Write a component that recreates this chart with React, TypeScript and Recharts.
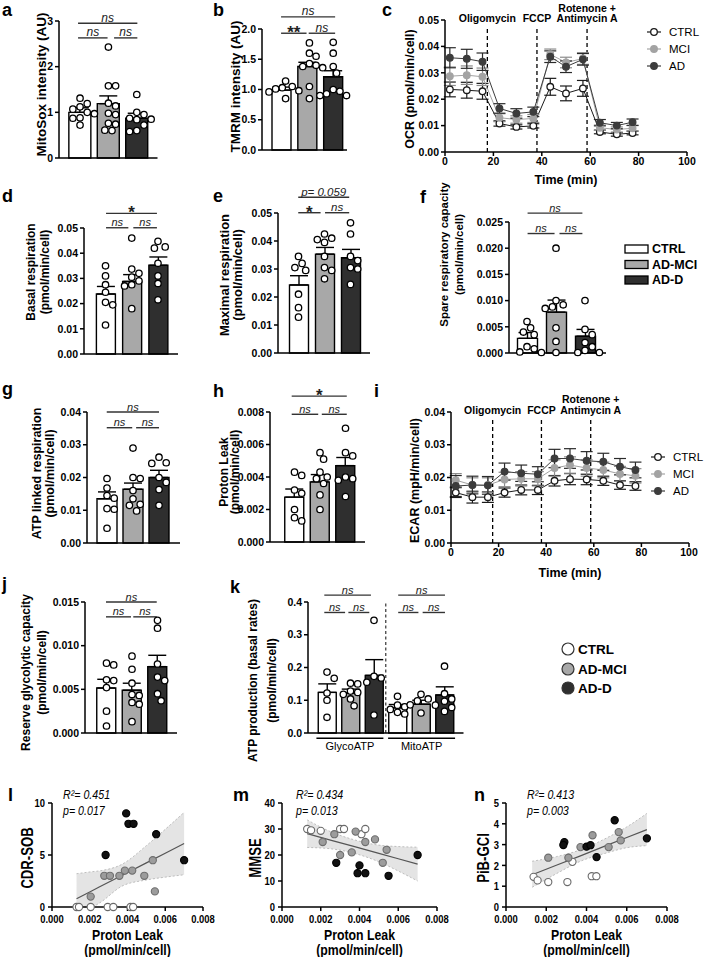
import React from 'react';
import {
  ComposedChart, LineChart, Line, Bar, Cell, Scatter, Area, XAxis, YAxis,
  ErrorBar, ReferenceLine, Label, Legend,
} from 'recharts';

const FONT = '"Liberation Sans", Arial, Helvetica, sans-serif';
const NARROW_SCALE = 0.82;

// ---------- shared categories ----------
const GROUPS = ['CTRL', 'AD-MCI', 'AD-D'];
const BAR_FILLS = ['#ffffff', '#a8a8a8', '#2f2f2f'];

// ---------- a: MitoSox ----------
const mitoSoxMean = [1.0, 1.19, 0.87];
const mitoSoxSem = [0.1, 0.17, 0.11];
const mitoSoxCtrl = [1.31, 1.19, 1.12, 1.07, 1.0, 0.97, 0.88, 0.87, 0.72];
const mitoSoxMci = [2.43, 1.58, 1.58, 1.2, 1.14, 0.98, 0.95, 0.76, 0.74, 0.61, 0.6];
const mitoSoxAd = [1.39, 1.0, 0.95, 0.87, 0.85, 0.84, 0.72, 0.6, 0.58];

// ---------- b: TMRM ----------
const tmrmMean = [0.99, 1.38, 1.21];
const tmrmSem = [0.05, 0.07, 0.1];
const tmrmCtrl = [1.14, 1.05, 1.03, 1.01, 0.98, 0.96, 0.85];
const tmrmMci = [1.77, 1.6, 1.55, 1.43, 1.4, 1.38, 1.36, 1.05, 0.85];
const tmrmAd = [1.78, 1.6, 1.38, 1.27, 1.0, 0.97, 0.93, 0.9, 0.9];

// ---------- c / i: time courses ----------
const TIMES = [2, 9, 15.5, 22.5, 29.5, 36.5, 43.5, 50, 57, 64, 71, 77.5];
const DRUG_TIMES = [17.5, 38, 58.7];
const ocrCtrl = [0.0237, 0.0234, 0.023, 0.0108, 0.0095, 0.0099, 0.0247, 0.0222, 0.0241, 0.0076, 0.0067, 0.0072];
const ocrCtrlErr = [0.0028, 0.003, 0.003, 0.001, 0.0008, 0.0008, 0.0032, 0.0028, 0.003, 0.0007, 0.0007, 0.0007];
const ocrMci = [0.0287, 0.0291, 0.0285, 0.013, 0.0123, 0.0127, 0.037, 0.0339, 0.0354, 0.0092, 0.0085, 0.009];
const ocrMciErr = [0.0035, 0.0035, 0.0033, 0.0015, 0.0014, 0.0015, 0.002, 0.002, 0.0022, 0.001, 0.001, 0.001];
const ocrAd = [0.0357, 0.0353, 0.0342, 0.0165, 0.0146, 0.0152, 0.0361, 0.0323, 0.0351, 0.0111, 0.01, 0.0113];
const ocrAdErr = [0.0038, 0.0036, 0.0033, 0.0018, 0.0018, 0.0018, 0.0022, 0.0022, 0.0022, 0.0012, 0.0012, 0.0012];

const ecarCtrl = [0.0154, 0.014, 0.014, 0.0154, 0.0162, 0.0162, 0.019, 0.0195, 0.0194, 0.019, 0.0177, 0.0174];
const ecarCtrlErr = [0.0015, 0.0018, 0.0016, 0.0014, 0.0015, 0.0014, 0.0016, 0.0017, 0.0016, 0.0014, 0.0013, 0.0013];
const ecarMci = [0.0192, 0.0177, 0.0177, 0.0194, 0.0196, 0.0196, 0.0229, 0.0238, 0.0229, 0.0223, 0.0211, 0.0205];
const ecarMciErr = [0.002, 0.0022, 0.0022, 0.0022, 0.0022, 0.0022, 0.0025, 0.0025, 0.0025, 0.0024, 0.0023, 0.0022];
const ecarAd = [0.0174, 0.0177, 0.0176, 0.0218, 0.0213, 0.021, 0.0258, 0.0258, 0.0251, 0.0248, 0.0233, 0.0223];
const ecarAdErr = [0.0032, 0.0027, 0.0027, 0.0026, 0.0025, 0.0023, 0.0028, 0.003, 0.0028, 0.0026, 0.0025, 0.0024];

// ---------- d: basal ----------
const basalMean = [0.0238, 0.0288, 0.0352];
const basalSem = [0.003, 0.0027, 0.0033];
const basalCtrl = [0.035, 0.031, 0.0275, 0.0245, 0.0205, 0.0195, 0.0115];
const basalMci = [0.046, 0.0337, 0.032, 0.0305, 0.029, 0.0275, 0.027, 0.018];
const basalAd = [0.0447, 0.0425, 0.042, 0.036, 0.031, 0.028, 0.0215];

// ---------- e: maximal ----------
const maxMean = [0.0243, 0.0353, 0.034];
const maxSem = [0.0033, 0.0024, 0.003];
const maxCtrl = [0.0345, 0.032, 0.0305, 0.0295, 0.021, 0.0162, 0.0128];
const maxMci = [0.0425, 0.041, 0.0405, 0.0395, 0.0345, 0.0305, 0.0295, 0.0265];
const maxAd = [0.0465, 0.0425, 0.0345, 0.033, 0.0305, 0.03, 0.0245];

// ---------- f: spare ----------
const spareMean = [0.0028, 0.0078, 0.0032];
const spareSem = [0.0011, 0.0023, 0.0013];
const spareCtrl = [0.006, 0.0048, 0.004, 0.0035, 0.0012, 0.0008, 0.0002, 0.0001];
const spareMci = [0.02, 0.01, 0.0092, 0.0088, 0.0085, 0.0048, 0.0022, 0.0001];
const spareAd = [0.01, 0.0045, 0.0035, 0.002, 0.0012, 0.0005, 0.0001, 0.0001];

// ---------- g: ATP linked ----------
const atpMean = [0.0135, 0.0164, 0.02];
const atpSem = [0.0021, 0.0019, 0.0022];
const atpCtrl = [0.0197, 0.0168, 0.0145, 0.0137, 0.0105, 0.0103, 0.0045];
const atpMci = [0.029, 0.02, 0.0197, 0.016, 0.0135, 0.0118, 0.0115, 0.0098];
const atpAd = [0.0262, 0.0245, 0.0243, 0.02, 0.0185, 0.0163, 0.0115];

// ---------- h: proton leak ----------
const leakMean = [0.00276, 0.0037, 0.0047];
const leakSem = [0.0005, 0.00045, 0.0005];
const leakCtrl = [0.0043, 0.0041, 0.0032, 0.003, 0.002, 0.0015, 0.0013];
const leakMci = [0.0055, 0.0051, 0.0043, 0.004, 0.0039, 0.0036, 0.0029, 0.002];
const leakAd = [0.007, 0.0055, 0.0053, 0.004, 0.0039, 0.0038, 0.0028];

// ---------- j: reserve glycolytic ----------
const glyMean = [0.00515, 0.0049, 0.0076];
const glySem = [0.001, 0.0008, 0.0013];
const glyCtrl = [0.008, 0.0078, 0.0061, 0.006, 0.0052, 0.0025, 0.0008];
const glyMci = [0.0088, 0.0073, 0.0057, 0.0044, 0.0043, 0.0035, 0.0033, 0.0013];
const glyAd = [0.0129, 0.012, 0.0079, 0.0064, 0.006, 0.0045, 0.0037];

// ---------- k: ATP production ----------
const prodCats = ['GlycoATP CTRL', 'GlycoATP AD-MCI', 'GlycoATP AD-D', 'MitoATP CTRL', 'MitoATP AD-MCI', 'MitoATP AD-D'];
const prodGroups = ['GlycoATP', 'MitoATP'];
const prodMean = [0.124, 0.122, 0.176, 0.077, 0.088, 0.116];
const prodSem = [0.026, 0.012, 0.048, 0.01, 0.012, 0.025];
const prodDots = [
  [0.186, 0.167, 0.122, 0.1, 0.048],
  [0.152, 0.15, 0.128, 0.124, 0.118, 0.104, 0.083],
  [0.344, 0.173, 0.168, 0.155, 0.055],
  [0.112, 0.085, 0.08, 0.072, 0.063, 0.058],
  [0.118, 0.104, 0.098, 0.086, 0.085, 0.061],
  [0.204, 0.12, 0.104, 0.097, 0.078, 0.066],
];

// ---------- l/m/n: correlations ----------
const LEAK_TICKS = [0, 0.002, 0.004, 0.006, 0.008];
const cdrCtrl = [[0.0013, 0], [0.00143, 0], [0.00205, 0], [0.00295, 0], [0.00325, 0], [0.00416, 0], [0.0043, 0]];
const cdrMci = [[0.00205, 1.0], [0.00277, 3.0], [0.00307, 3.0], [0.00357, 3.0], [0.00386, 3.5], [0.00425, 3.5], [0.00489, 3.0], [0.00534, 4.5], [0.00545, 1.5]];
const cdrAd = [[0.00393, 9.0], [0.00405, 8.0], [0.00432, 8.0], [0.00552, 7.0], [0.00284, 5.0], [0.007, 4.5]];
const cdrFitX = [0.0013, 0.0021, 0.0025, 0.0037, 0.005, 0.006, 0.007];
const cdrFit = [0.8, 1.54, 1.92, 3.03, 4.24, 5.17, 6.1];
const cdrLo = [0, 0, 0.37, 2.0, 2.6, 2.87, 3.1];
const cdrHi = [3.2, 3.39, 3.47, 4.1, 5.9, 7.47, 9.1];

const mmseCtrl = [[0.0013, 30], [0.0015, 29.5], [0.002, 29.3], [0.003, 30], [0.0032, 30], [0.0041, 28], [0.0043, 30]];
const mmseMci = [[0.0021, 25], [0.0027, 28], [0.003, 20], [0.0036, 21], [0.0038, 29], [0.0043, 25], [0.0048, 26], [0.0054, 22], [0.0052, 17]];
const mmseAd = [[0.0028, 17], [0.004, 16], [0.0039, 13], [0.0043, 13], [0.0055, 12], [0.007, 20]];
const mmseFitX = [0.0013, 0.0025, 0.0037, 0.005, 0.006, 0.007];
const mmseFit = [28.2, 25.7, 23.3, 20.6, 18.55, 16.5];
const mmseLo = [22.9, 22.4, 20.7, 17.4, 13.85, 10];
const mmseHi = [33.5, 29.0, 25.9, 23.8, 23.25, 23];

const pibCtrl = [[0.00137, 1.45], [0.00157, 1.28], [0.0021, 1.2], [0.00305, 1.2], [0.0033, 2.17], [0.00426, 1.48], [0.00449, 1.48]];
const pibMci = [[0.0021, 2.37], [0.0031, 2.37], [0.0037, 2.88], [0.0043, 3.45], [0.0051, 2.88], [0.0056, 3.6], [0.0057, 3.2]];
const pibAd = [[0.0029, 3.12], [0.00285, 2.98], [0.004, 2.9], [0.0042, 2.97], [0.0045, 2.4], [0.0054, 4.17], [0.007, 3.3]];
const pibFitX = [0.0013, 0.0025, 0.0037, 0.005, 0.006, 0.007];
const pibFit = [1.55, 2.01, 2.46, 2.96, 3.34, 3.72];
const pibLo = [0.95, 1.6, 2.2, 2.6, 2.85, 2.95];
const pibHi = [2.2, 2.42, 2.75, 3.32, 3.85, 4.5];

// ---------- significance annotations (x in category band units) ----------
type Bracket = [number, number, number, string];
const sigA: Bracket[] = [[0.43, 2.52, 2.95, 'ns'], [0.43, 1.47, 2.63, 'ns'], [1.7, 2.52, 2.63, 'ns']];
const sigB: Bracket[] = [[0.31, 2.58, 2.2, 'ns'], [0.31, 1.38, 1.93, '**'], [1.47, 2.58, 1.93, 'ns']];
const sigD: Bracket[] = [[0.52, 2.46, 0.0558, '*'], [0.52, 1.37, 0.0501, 'ns'], [1.56, 2.46, 0.0501, 'ns']];
const sigE: Bracket[] = [[0.49, 2.45, 0.0556, 'p= 0.059'], [0.49, 1.35, 0.0501, '*'], [1.52, 2.45, 0.0501, 'ns']];
const sigF: Bracket[] = [[0.52, 2.41, 0.0267, 'ns'], [0.52, 1.45, 0.0228, 'ns'], [1.62, 2.41, 0.0228, 'ns']];
const sigG: Bracket[] = [[0.49, 2.5, 0.04, 'ns'], [0.49, 1.47, 0.0352, 'ns'], [1.62, 2.5, 0.0352, 'ns']];
const sigH: Bracket[] = [[0.39, 2.55, 0.00898, '*'], [0.39, 1.43, 0.00786, 'ns'], [1.57, 2.55, 0.00786, 'ns']];
const sigJ: Bracket[] = [[0.48, 2.47, 0.015, 'ns'], [0.48, 1.46, 0.0133, 'ns'], [1.55, 2.47, 0.0133, 'ns']];
const sigK: Bracket[] = [
  [0.385, 2.37, 0.421, 'ns'], [0.385, 1.27, 0.368, 'ns'], [1.41, 2.3, 0.368, 'ns'],
  [3.53, 5.52, 0.421, 'ns'], [3.53, 4.39, 0.368, 'ns'], [4.57, 5.52, 0.368, 'ns'],
];

// ---------- styles ----------
const AXIS = { stroke: '#000', strokeWidth: 1.5 };
const TICK = { fontSize: 10.5, fontWeight: 700, fill: '#000', fontFamily: FONT };
const R_DOT = 3.2;

function swarm(vals: number[], ppu: number, r: number): number[] {
  const out = vals.map(() => 0);
  const placed: { x: number; y: number }[] = [];
  const order = vals.map((_, i) => i).sort((a, b) => vals[b] - vals[a]);
  const d = 2 * r + 0.8;
  for (const i of order) {
    const y = vals[i] * ppu;
    let best = 0;
    for (let k = 0; k < 40; k++) {
      const dx = (k % 2 === 1 ? 1 : -1) * Math.ceil(k / 2) * (d / 2);
      if (placed.every((p) => (p.x - dx) ** 2 + (p.y - y) ** 2 >= d * d)) { best = dx; break; }
    }
    placed.push({ x: best, y });
    out[i] = best;
  }
  return out;
}

function dotShape(props: any) {
  return <circle cx={props.cx} cy={props.cy} r={R_DOT} fill="#fff" stroke="#000" strokeWidth={1.3} />;
}

function yLabel(lines: string[], dists: number[], fs: number, off: number, narrow = false) {
  return (props: any) => {
    const vb = props.viewBox || { x: 0, y: 0, width: 0, height: 0 };
    const ax = vb.x + vb.width;
    const cy = vb.y + vb.height / 2 + off;
    return (
      <g>
        {lines.map((t, i) => {
          const x = ax - dists[i];
          return (
            <text key={i} x={0} y={0} transform={`translate(${x} ${cy}) rotate(-90) scale(${narrow ? NARROW_SCALE : 1} 1)`}
              textAnchor="middle" dominantBaseline="central" fontSize={fs} fontWeight={700} fontFamily={FONT} fill="#000">{t}</text>
          );
        })}
      </g>
    );
  };
}

interface BarPanelProps {
  L: number; T: number; R: number; B: number; padL: number; padR: number; barSize: number;
  cats: string[]; means: number[]; sems: number[]; fills: string[]; dots: number[][];
  yMax: number; ticks: number[]; digits: number;
  yLab: { lines: string[]; dists: number[]; fs: number; off: number };
  brackets: Bracket[]; sigFs: number; mr?: number;
  extras?: React.ReactNode[]; legend?: React.ReactNode;
}

function BarPanel(p: BarPanelProps) {
  const ML = 80, MT = 60, XH = 40, MR = p.mr ?? 20;
  const n = p.cats.length;
  const data = p.cats.map((c, i) => ({ cat: c, v: p.means[i], e: [0, p.sems[i]] }));
  const bandPx = (p.R - p.L - p.padL - p.padR) / n;
  const ppu = (p.B - p.T) / p.yMax;
  const dotSets = p.dots.map((vals, gi) => {
    const offs = swarm(vals, ppu, R_DOT);
    return vals.map((v, k) => ({ x: gi + 0.5 + offs[k] / bandPx, y: v }));
  });
  const width = p.R - p.L + ML + MR;
  const height = p.B - p.T + MT + XH;
  return (
    <div style={{ position: 'absolute', left: p.L - ML, top: p.T - MT }}>
      <ComposedChart width={width} height={height} data={data} margin={{ top: MT, right: MR, bottom: 0, left: 0 }}>
        <XAxis xAxisId="c" dataKey="cat" type="category" height={XH} padding={{ left: p.padL, right: p.padR }}
          tick={false} tickLine={false} axisLine={AXIS} />
        <XAxis xAxisId="n" dataKey="x" type="number" domain={[0, n]} hide padding={{ left: p.padL, right: p.padR }} />
        <YAxis width={ML} domain={[0, p.yMax]} ticks={p.ticks} interval={0}
          tickFormatter={(v: number) => v.toFixed(p.digits)} tick={TICK} tickLine={AXIS} tickSize={4} tickMargin={2}
          axisLine={AXIS} label={yLabel(p.yLab.lines, p.yLab.dists, p.yLab.fs, p.yLab.off)} />
        <Bar xAxisId="c" dataKey="v" barSize={p.barSize} isAnimationActive={false} stroke="#000" strokeWidth={1.4}>
          {data.map((_, i) => <Cell key={i} fill={p.fills[i]} />)}
          <ErrorBar dataKey="e" width={9} stroke="#000" strokeWidth={1.4} direction="y" />
        </Bar>
        {(p.extras || [])}
        {p.brackets.map((b, i) => {
          const star = b[3].startsWith('*');
          return (
            <ReferenceLine key={'br' + i} xAxisId="n" segment={[{ x: b[0], y: b[2] }, { x: b[1], y: b[2] }]}
              ifOverflow="visible" stroke="#333" strokeWidth={1.4}>
              <Label value={b[3]} position="top" offset={star ? -5 : 1.5} fontSize={star ? 17 : p.sigFs}
                fontStyle={star ? 'normal' : 'italic'} fontWeight={star ? 700 : 400} fill="#222" fontFamily={FONT} />
            </ReferenceLine>
          );
        })}
        {dotSets.map((dd, gi) => (
          <Scatter key={'s' + gi} xAxisId="n" data={dd} dataKey="y" shape={dotShape} isAnimationActive={false} />
        ))}
        {p.legend}
      </ComposedChart>
    </div>
  );
}

const LINE_STYLES = [
  { key: 'ctrl', name: 'CTRL', stroke: '#1a1a1a', dotFill: '#ffffff', dotStroke: '#1a1a1a', err: '#1a1a1a' },
  { key: 'mci', name: 'MCI', stroke: '#a3a3a3', dotFill: '#a3a3a3', dotStroke: '#a3a3a3', err: '#8c8c8c' },
  { key: 'ad', name: 'AD', stroke: '#3c3c3c', dotFill: '#3c3c3c', dotStroke: '#3c3c3c', err: '#2a2a2a' },
];

const lineLegend = () => (
  <svg width={64} height={52} style={{ overflow: 'visible' }}>
    {LINE_STYLES.map((s, i) => (
      <g key={s.name}>
        <line x1={2} x2={16} y1={8 + i * 17} y2={8 + i * 17} stroke={s.stroke} strokeWidth={1.2} />
        <circle cx={9} cy={8 + i * 17} r={3.3} fill={s.dotFill} stroke={s.dotStroke} strokeWidth={1.3} />
        <text x={24} y={8 + i * 17} dominantBaseline="central" fontSize={11.5} fontFamily={FONT} fill="#000">{s.name}</text>
      </g>
    ))}
  </svg>
);

interface LinePanelProps {
  L: number; T: number; R: number; B: number; yMax: number; ticks: number[];
  ctrl: number[]; ctrlE: number[]; mci: number[]; mciE: number[]; ad: number[]; adE: number[];
  yTitle: string; yDist: number; yOff: number; dashTop: number; o1: number; o2: number; tOff: number;
  legLeft: number; legTop: number;
}

function LinePanel(p: LinePanelProps) {
  const ML = 80, MT = 40, XH = 40, MR = 30;
  const data = TIMES.map((t, i) => ({
    t, ctrl: p.ctrl[i], ctrlE: p.ctrlE[i], mci: p.mci[i], mciE: p.mciE[i], ad: p.ad[i], adE: p.adE[i],
  }));
  const width = p.R - p.L + ML + MR;
  const height = p.B - p.T + MT + XH;
  const lab = { fontSize: 10.5, fontWeight: 700, fill: '#000', fontFamily: FONT };
  return (
    <div style={{ position: 'absolute', left: p.L - ML, top: p.T - MT }}>
      <LineChart width={width} height={height} data={data} margin={{ top: MT, right: MR, bottom: 0, left: 0 }}>
        <XAxis dataKey="t" type="number" domain={[0, 100]} ticks={[0, 20, 40, 60, 80, 100]} interval={0} height={XH}
          tick={TICK} tickLine={AXIS} tickSize={4} tickMargin={2} axisLine={AXIS}
          label={{ value: 'Time (min)', position: 'insideBottom', offset: p.tOff, fontSize: 12.5, fontWeight: 700, fill: '#000', fontFamily: FONT }} />
        <YAxis width={ML} domain={[0, p.yMax]} ticks={p.ticks} interval={0} tickFormatter={(v: number) => v.toFixed(2)}
          tick={TICK} tickLine={AXIS} tickSize={4} tickMargin={2} axisLine={AXIS}
          label={yLabel([p.yTitle], [p.yDist], 12.5, p.yOff)} />
        <ReferenceLine segment={[{ x: DRUG_TIMES[0], y: 0 }, { x: DRUG_TIMES[0], y: p.dashTop }]} ifOverflow="visible"
          stroke="#000" strokeWidth={1.3} strokeDasharray="4 3">
          <Label value="Oligomycin" position="top" offset={p.o1} {...lab} />
        </ReferenceLine>
        <ReferenceLine segment={[{ x: DRUG_TIMES[1], y: 0 }, { x: DRUG_TIMES[1], y: p.dashTop }]} ifOverflow="visible"
          stroke="#000" strokeWidth={1.3} strokeDasharray="4 3">
          <Label value="FCCP" position="top" offset={p.o1} {...lab} />
        </ReferenceLine>
        <ReferenceLine segment={[{ x: DRUG_TIMES[2], y: 0 }, { x: DRUG_TIMES[2], y: p.dashTop }]} ifOverflow="visible"
          stroke="#000" strokeWidth={1.3} strokeDasharray="4 3">
          <Label value="Antimycin A" position="top" offset={p.o1} {...lab} />
          <Label value="Rotenone +" position="top" offset={p.o2} {...lab} />
        </ReferenceLine>
        {LINE_STYLES.map((s) => (
          <Line key={s.key} dataKey={s.key} stroke={s.stroke} strokeWidth={1} isAnimationActive={false} activeDot={false}
            dot={(dp: any) => (
              <circle key={s.key + '-' + dp.index} cx={dp.cx} cy={dp.cy} r={3.3} fill={s.dotFill} stroke={s.dotStroke} strokeWidth={1.3} />
            )}>
            <ErrorBar dataKey={s.key + 'E'} width={6} stroke={s.err} strokeWidth={1.2} direction="y" />
          </Line>
        ))}
        <Legend layout="vertical" align="center" verticalAlign="middle" content={lineLegend}
          wrapperStyle={{ left: p.legLeft, top: p.legTop, width: 64 }} />
      </LineChart>
    </div>
  );
}

function NText(props: { x: number; y: number; fs: number; anchor: string; dy?: string; bold?: boolean; italic?: boolean; children: React.ReactNode }) {
  return (
    <text x={0} y={0} dy={props.dy} transform={`translate(${props.x} ${props.y}) scale(${NARROW_SCALE} 1)`}
      textAnchor={props.anchor} fontSize={props.fs} fontWeight={props.bold ? 700 : 400}
      fontStyle={props.italic ? 'italic' : 'normal'} fontFamily={FONT} fill="#000">{props.children}</text>
  );
}

const leakLabel = (props: any) => {
  const vb = props.viewBox || { x: 0, y: 0, width: 0 };
  const cx = vb.x + vb.width / 2;
  return (
    <g>
      <NText x={cx} y={vb.y + 33} fs={15} anchor="middle" bold>Proton Leak</NText>
      <NText x={cx} y={vb.y + 48} fs={15} anchor="middle" bold>(pmol/min/cell)</NText>
    </g>
  );
};

const narrowXTick = (props: any) => (
  <NText x={props.x} y={props.y} fs={11.5} anchor="middle" dy="0.71em" bold>{Number(props.payload.value).toFixed(3)}</NText>
);
const narrowYTick = (props: any) => (
  <NText x={props.x} y={props.y} fs={11.5} anchor="end" dy="0.36em" bold>{String(props.payload.value)}</NText>
);

const SCAT_STYLES = [
  { fill: '#ffffff', stroke: '#6a6a6a' },
  { fill: '#9c9c9c', stroke: '#6e6e6e' },
  { fill: '#111111', stroke: '#000000' },
];

interface ScatterPanelProps {
  L: number; T: number; R: number; B: number; yMax: number; ticks: number[];
  groups: number[][][]; fitX: number[]; fit: number[]; lo: number[]; hi: number[];
  yTitle: string; yDist: number;
}

function ScatterPanel(p: ScatterPanelProps) {
  const ML = 80, MT = 40, XH = 52, MR = 20;
  const data = p.fitX.map((x, i) => ({ x, fit: p.fit[i], band: [p.lo[i], p.hi[i]] }));
  const width = p.R - p.L + ML + MR;
  const height = p.B - p.T + MT + XH;
  return (
    <div style={{ position: 'absolute', left: p.L - ML, top: p.T - MT }}>
      <ComposedChart width={width} height={height} data={data} margin={{ top: MT, right: MR, bottom: 0, left: 0 }}>
        <XAxis dataKey="x" type="number" domain={[0, 0.008]} ticks={LEAK_TICKS} interval={0}
          height={XH} tick={narrowXTick} tickLine={AXIS} tickSize={4} tickMargin={4}
          axisLine={AXIS} label={leakLabel} />
        <YAxis width={ML} domain={[0, p.yMax]} ticks={p.ticks} interval={0} tick={narrowYTick} tickLine={AXIS} tickSize={4}
          tickMargin={3} axisLine={AXIS} label={yLabel([p.yTitle], [p.yDist], 16, 3, true)} />
        <Area dataKey="band" type="monotone" fill="#e4e4e4" fillOpacity={1} stroke="#b0b0b0" strokeDasharray="2 2"
          strokeWidth={0.8} isAnimationActive={false} activeDot={false} dot={false} />
        <Line dataKey="fit" stroke="#555" strokeWidth={1.2} dot={false} activeDot={false} isAnimationActive={false} />
        {p.groups.map((g, gi) => (
          <Scatter key={'g' + gi} data={g.map(([x, y]) => ({ x, y }))} dataKey="y" isAnimationActive={false}
            shape={(sp: any) => (
              <circle cx={sp.cx} cy={sp.cy} r={3.6} fill={SCAT_STYLES[gi].fill} stroke={SCAT_STYLES[gi].stroke} strokeWidth={1.1} />
            )} />
        ))}
      </ComposedChart>
    </div>
  );
}

const barLegend = () => (
  <svg width={90} height={52} style={{ overflow: 'visible' }}>
    {GROUPS.map((g, i) => {
      const y = [9, 24.5, 40][i];
      return (
        <g key={g}>
          <rect x={3} y={y - 4} width={23} height={8} fill={BAR_FILLS[i]} stroke="#000" strokeWidth={1.3} />
          <text x={30} y={y} dominantBaseline="central" fontSize={12.5} fontWeight={700} fontFamily={FONT} fill="#000">{g}</text>
        </g>
      );
    })}
  </svg>
);

const dotLegend = () => (
  <svg width={100} height={58} style={{ overflow: 'visible' }}>
    {GROUPS.map((g, i) => {
      const y = [9, 29, 48][i];
      return (
        <g key={g}>
          <circle cx={8} cy={y} r={6} fill={BAR_FILLS[i]} stroke="#333" strokeWidth={1.2} />
          <text x={18} y={y} dominantBaseline="central" fontSize={13.5} fontWeight={700} fontFamily={FONT} fill="#000">{g}</text>
        </g>
      );
    })}
  </svg>
);

const LETTERS: [string, number, number][] = [
  ['a', 2, 16], ['b', 213, 16], ['c', 382, 16], ['d', 2, 202], ['e', 213, 202], ['f', 420, 203],
  ['g', 2, 395], ['h', 213, 397], ['i', 374, 397], ['j', 2, 590], ['k', 230, 593],
  ['l', 8, 801], ['m', 233, 801], ['n', 474, 801],
];
const STATS: [string, string, number][] = [
  ['R²= 0.451', 'p= 0.017', 63], ['R²= 0.434', 'p= 0.013', 296], ['R²= 0.413', 'p= 0.003', 527],
];

const Y5 = [0, 0.01, 0.02, 0.03, 0.04, 0.05];

export default function App() {
  const kExtras = [
    <ReferenceLine key="div" xAxisId="n" segment={[{ x: 3, y: 0 }, { x: 3, y: 0.4 }]} ifOverflow="visible"
      stroke="#444" strokeWidth={1.3} strokeDasharray="3 2.5" />,
    <ReferenceLine key="g1" xAxisId="n" segment={[{ x: 0.05, y: -0.016 }, { x: 2.9, y: -0.016 }]} ifOverflow="visible"
      stroke="#000" strokeWidth={1.4}>
      <Label value={prodGroups[0]} position="bottom" offset={4} fontSize={11} fontFamily={FONT} fill="#000" />
    </ReferenceLine>,
    <ReferenceLine key="g2" xAxisId="n" segment={[{ x: 3.1, y: -0.016 }, { x: 5.95, y: -0.016 }]} ifOverflow="visible"
      stroke="#000" strokeWidth={1.4}>
      <Label value={prodGroups[1]} position="bottom" offset={4} fontSize={11} fontFamily={FONT} fill="#000" />
    </ReferenceLine>,
  ];
  return (
    <div style={{ position: 'absolute', left: 0, top: 0, width: 708, height: 957, background: '#fff', overflow: 'hidden', fontFamily: FONT }}>
      <BarPanel L={59} T={21} R={157.5} B={158} padL={6.85} padR={6.35} barSize={22} cats={GROUPS}
        means={mitoSoxMean} sems={mitoSoxSem} fills={BAR_FILLS} dots={[mitoSoxCtrl, mitoSoxMci, mitoSoxAd]}
        yMax={3} ticks={[0, 1, 2, 3]} digits={0}
        yLab={{ lines: ['MitoSox intensity (AU)'], dists: [18], fs: 13.5, off: -5 }} brackets={sigA} sigFs={12} />
      <BarPanel L={262} T={29} R={347} B={150} padL={7} padR={0.5} barSize={19} cats={GROUPS}
        means={tmrmMean} sems={tmrmSem} fills={BAR_FILLS} dots={[tmrmCtrl, tmrmMci, tmrmAd]}
        yMax={2} ticks={[0, 0.5, 1, 1.5, 2]} digits={1}
        yLab={{ lines: ['TMRM intensity (AU)'], dists: [27], fs: 13.5, off: -3 }} brackets={sigB} sigFs={12} />
      <LinePanel L={445} T={20} R={687} B={152} yMax={0.05} ticks={Y5}
        ctrl={ocrCtrl} ctrlE={ocrCtrlErr} mci={ocrMci} mciE={ocrMciErr} ad={ocrAd} adE={ocrAdErr}
        yTitle="OCR (pmol/min/cell)" yDist={35} yOff={3} dashTop={0.0475} o1={4.5} o2={15} tOff={8}
        legLeft={280} legTop={44} />
      <BarPanel L={84} T={228} R={178} B={354} padL={8.4} padR={6.9} barSize={19} cats={GROUPS}
        means={basalMean} sems={basalSem} fills={BAR_FILLS} dots={[basalCtrl, basalMci, basalAd]}
        yMax={0.05} ticks={Y5} digits={2}
        yLab={{ lines: ['Basal respiration', '(pmol/min/cell)'], dists: [53, 39], fs: 12, off: -19 }} brackets={sigD} sigFs={11} />
      <BarPanel L={278} T={213} R={370} B={353} padL={7.5} padR={6.5} barSize={19} cats={GROUPS}
        means={maxMean} sems={maxSem} fills={BAR_FILLS} dots={[maxCtrl, maxMci, maxAd]}
        yMax={0.05} ticks={Y5} digits={2}
        yLab={{ lines: ['Maximal respiration', '(pmol/min/cell)'], dists: [54, 41], fs: 13, off: -8 }} brackets={sigE} sigFs={11.5} />
      <BarPanel L={509} T={222} R={606} B={353} padL={3.5} padR={6.5} barSize={20} cats={GROUPS}
        means={spareMean} sems={spareSem} fills={BAR_FILLS} dots={[spareCtrl, spareMci, spareAd]}
        yMax={0.025} ticks={[0, 0.005, 0.01, 0.015, 0.02, 0.025]} digits={3}
        yLab={{ lines: ['Spare respiratory capacity', '(pmol/min/cell)'], dists: [65, 50], fs: 11.5, off: -33 }}
        brackets={sigF} sigFs={11} mr={130}
        legend={<Legend layout="vertical" align="center" verticalAlign="middle" content={barLegend} wrapperStyle={{ left: 193, top: 78, width: 90 }} />} />
      <BarPanel L={87} T={412} R={180} B={543} padL={7} padR={8} barSize={20} cats={GROUPS}
        means={atpMean} sems={atpSem} fills={BAR_FILLS} dots={[atpCtrl, atpMci, atpAd]}
        yMax={0.04} ticks={[0, 0.01, 0.02, 0.03, 0.04]} digits={2}
        yLab={{ lines: ['ATP linked respiration', '(pmol/min/cell)'], dists: [50, 37], fs: 12.5, off: -4 }} brackets={sigG} sigFs={11} />
      <BarPanel L={270} T={412} R={365} B={542} padL={11.75} padR={6.75} barSize={19} cats={GROUPS}
        means={leakMean} sems={leakSem} fills={BAR_FILLS} dots={[leakCtrl, leakMci, leakAd]}
        yMax={0.008} ticks={[0, 0.002, 0.004, 0.006, 0.008]} digits={3}
        yLab={{ lines: ['Proton Leak', '(pmol/min/cell)'], dists: [46, 35], fs: 12, off: -5 }} brackets={sigH} sigFs={11} />
      <LinePanel L={451} T={412} R={689} B={543} yMax={0.04} ticks={[0, 0.01, 0.02, 0.03, 0.04]}
        ctrl={ecarCtrl} ctrlE={ecarCtrlErr} mci={ecarMci} mciE={ecarMciErr} ad={ecarAd} adE={ecarAdErr}
        yTitle="ECAR (mpH/min/cell)" yDist={36} yOff={3} dashTop={0.038} o1={5} o2={15.5} tOff={6}
        legLeft={278} legTop={77} />
      <BarPanel L={85} T={602} R={177} B={733} padL={8.75} padR={6.75} barSize={19} cats={GROUPS}
        means={glyMean} sems={glySem} fills={BAR_FILLS} dots={[glyCtrl, glyMci, glyAd]}
        yMax={0.015} ticks={[0, 0.005, 0.01, 0.015]} digits={3}
        yLab={{ lines: ['Reserve glycolytic capacity', '(pmol/min/cell)'], dists: [59, 43], fs: 12, off: 5 }} brackets={sigJ} sigFs={11} />
      <BarPanel L={308} T={602} R={463.5} B={733} padL={7.25} padR={7.25} barSize={18} cats={prodCats}
        means={prodMean} sems={prodSem} fills={[...BAR_FILLS, ...BAR_FILLS]} dots={prodDots}
        yMax={0.4} ticks={[0, 0.1, 0.2, 0.3, 0.4]} digits={1}
        yLab={{ lines: ['ATP production (basal rates)', '(pmol/min/cell)'], dists: [55, 36], fs: 12, off: 13 }}
        brackets={sigK} sigFs={11} mr={200} extras={kExtras}
        legend={<Legend layout="vertical" align="center" verticalAlign="middle" content={dotLegend} wrapperStyle={{ left: 332, top: 98, width: 100 }} />} />
      <ScatterPanel L={52} T={803} R={203} B={907} yMax={10} ticks={[0, 5, 10]}
        groups={[cdrCtrl, cdrMci, cdrAd]} fitX={cdrFitX} fit={cdrFit} lo={cdrLo} hi={cdrHi} yTitle="CDR-SOB" yDist={24} />
      <ScatterPanel L={282} T={803} R={437} B={907} yMax={40} ticks={[0, 10, 20, 30, 40]}
        groups={[mmseCtrl, mmseMci, mmseAd]} fitX={mmseFitX} fit={mmseFit} lo={mmseLo} hi={mmseHi} yTitle="MMSE" yDist={26} />
      <ScatterPanel L={506} T={803} R={667} B={907} yMax={5} ticks={[0, 1, 2, 3, 4, 5]}
        groups={[pibCtrl, pibMci, pibAd]} fitX={pibFitX} fit={pibFit} lo={pibLo} hi={pibHi} yTitle="PiB-GCI" yDist={22} />
      <svg width={708} height={957} style={{ position: 'absolute', left: 0, top: 0, pointerEvents: 'none' }}>
        {LETTERS.map(([t, x, y]) => (
          <text key={t} x={x} y={y} fontSize={18} fontWeight={700} fontFamily={FONT} fill="#000">{t}</text>
        ))}
        {STATS.map(([r2, pv, x]) => (
          <g key={r2}>
            <NText x={x} y={799} fs={13} anchor="start" italic>{r2}</NText>
            <NText x={x} y={815} fs={13} anchor="start" italic>{pv}</NText>
          </g>
        ))}
      </svg>
    </div>
  );
}
